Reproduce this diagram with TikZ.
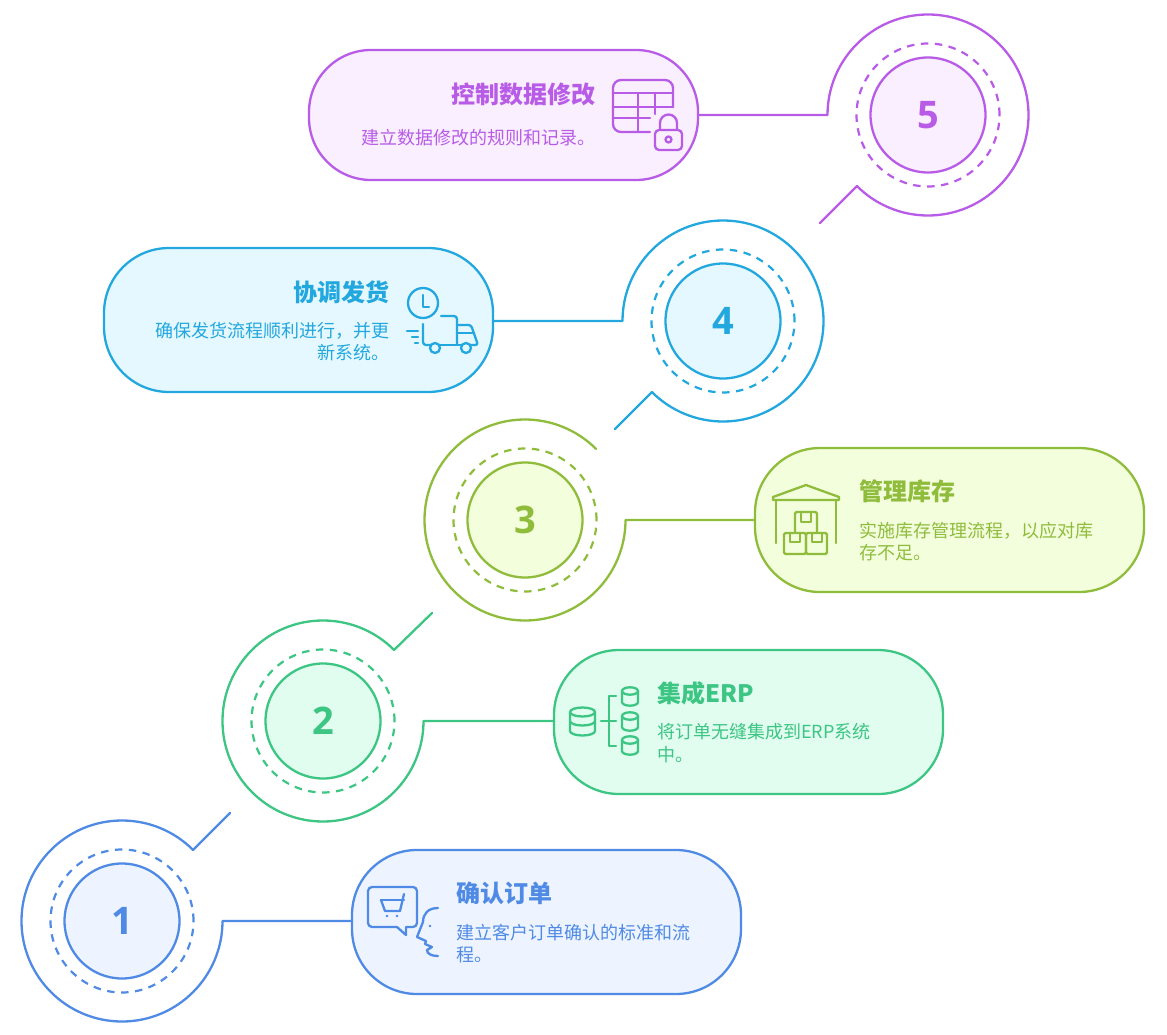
\documentclass[tikz,border=0pt]{standalone}
\usepackage{fontspec}
\setmainfont{Noto Sans CJK SC}
\newfontfamily\numfont{Open Sans}
\definecolor{cA}{HTML}{4F8AE5}\definecolor{fA}{HTML}{EDF4FF}
\definecolor{cB}{HTML}{3CC583}\definecolor{fB}{HTML}{E0FDF0}
\definecolor{cC}{HTML}{8FBC3B}\definecolor{fC}{HTML}{F3FEDD}
\definecolor{cD}{HTML}{22A8DE}\definecolor{fD}{HTML}{E6F8FF}
\definecolor{cE}{HTML}{B85CE8}\definecolor{fE}{HTML}{FAEFFE}
\tikzset{
  ln/.style={line width=2.3pt,line join=round,line cap=round},
  pill/.style={ln,draw,minimum width=389pt,minimum height=144pt,rounded corners=65pt,inner sep=0pt},
  inner/.style={ln,draw,circle,minimum size=115pt,inner sep=0pt,font=\numfont\bfseries\fontsize{38}{38}\selectfont},
  dashring/.style={line width=2.2pt,draw,circle,minimum size=143pt,inner sep=0pt,dash pattern=on 7.5pt off 6.5pt},
  ttl/.style={inner sep=0pt,font=\bfseries\fontsize{24}{28}\selectfont},
  dsc/.style={inner sep=0pt,font=\fontsize{18}{22.5}\selectfont},
  ico/.style={ln,line width=2.3pt}
}
\begin{document}
\begin{tikzpicture}[x=1pt,y=-1pt]
\useasboundingbox (0,0) rectangle (1167,1035);
% ---- 1
\begin{scope}[color=cA]
\node[pill,fill=fA] (b1) at (546.5,922) {};
\node[dashring] (d1) at (122,921) {};
\node[inner,fill=fA] (c1) at (122,921) {1};
\coordinate (a1) at (222.5,921);\coordinate (t1) at (230,813);
\draw[ln] (b1.west |- a1) -- (a1) arc[start angle=0,end angle=315,radius=100.5] -- (t1);
\node[ttl,anchor=west] (h1) at (456,893) {确认订单};
\node[dsc,anchor=north west,align=left] (p1) at (456,924) {建立客户订单确认的标准和流\\程。};
\begin{scope}[ico]
\draw (372,887) -- (413,887) arc[start angle=-90,end angle=0,radius=4] -- (417,923) arc[start angle=0,end angle=90,radius=4] -- (406,927) -- (406,935) -- (397,927) -- (372,927) arc[start angle=90,end angle=180,radius=4] -- (368,891) arc[start angle=180,end angle=270,radius=4] -- cycle;
\draw (381,900) -- (404,900);
\draw (381,900) -- (385,911) -- (400,911) -- (404,894);
\fill (387,916) circle (1.4) (397,916) circle (1.4) (430,926) circle (1.4);
\draw (438,908) .. controls (428,908) and (423,914) .. (423,922) -- (417,937) -- (426,941) -- (425,944) -- (432,947) -- (427,950) .. controls (427,954) and (432,956) .. (438,956);
\end{scope}
\end{scope}
% ---- 2
\begin{scope}[color=cB]
\node[pill,fill=fB] (b2) at (748.5,722) {};
\node[dashring] (d2) at (323,721) {};
\node[inner,fill=fB] (c2) at (323,721) {2};
\coordinate (a2) at (423.5,721);\coordinate (t2) at (432,613);
\draw[ln] (b2.west |- a2) -- (a2) arc[start angle=0,end angle=315,radius=100.5] -- (t2);
\node[ttl,anchor=west] (h2) at (657,693) {集成ERP};
\node[dsc,anchor=north west,align=left] (p2) at (657,723.5) {将订单无缝集成到ERP系统\\中。};
\begin{scope}[ico]
\draw (570,712) arc[start angle=180,end angle=540,x radius=12.5,y radius=4.5];
\draw (570,712) -- (570,731) arc[start angle=180,end angle=0,x radius=12.5,y radius=4.5] -- (595,712);
\draw (570,721) arc[start angle=180,end angle=0,x radius=12.5,y radius=4.5];
\draw (601,721) -- (616,721) (616,696) -- (609,696) -- (609,746) -- (616,746);
\foreach \yy in {691,716,740}{
  \draw (622,\yy) arc[start angle=180,end angle=540,x radius=8,y radius=3.7];
  \draw (622,\yy) -- ++(0,11) arc[start angle=180,end angle=0,x radius=8,y radius=3.7] -- ++(0,-11);
}
\end{scope}
\end{scope}
% ---- 3
\begin{scope}[color=cC]
\node[pill,fill=fC] (b3) at (949.5,520) {};
\node[dashring] (d3) at (525,520) {};
\node[inner,fill=fC] (c3) at (525,520) {3};
\coordinate (a3) at (625.5,520);
\draw[ln] (b3.west |- a3) -- (a3) arc[start angle=0,end angle=315,radius=100.5];
\node[ttl,anchor=west] (h3) at (859,491) {管理库存};
\node[dsc,anchor=north west,align=left] (p3) at (859,522) {实施库存管理流程，以应对库\\存不足。};
\begin{scope}[ico]
\draw (773,500) -- (773,497) -- (806,485) -- (839,497) -- (839,500) -- cycle;
\draw (776,501) -- (776,543) (836,501) -- (836,543);
\draw[rounded corners=1.5pt] (795,532) -- (795,512) -- (817,512) -- (817,532);
\draw (801,512) -- (801,522) -- (811,522) -- (811,512);
\draw[rounded corners=1.5pt] (784,533) rectangle (806,554);
\draw[rounded corners=1.5pt] (806,533) rectangle (827,554);
\draw (790,533) -- (790,542) -- (800,542) -- (800,533);
\draw (812,533) -- (812,542) -- (822,542) -- (822,533);
\end{scope}
\end{scope}
% ---- 4
\begin{scope}[color=cD]
\node[pill,fill=fD] (b4) at (298.5,320) {};
\node[dashring] (d4) at (723,321) {};
\node[inner,fill=fD] (c4) at (723,321) {4};
\coordinate (a4) at (622.5,321);\coordinate (t4) at (615,429);
\draw[ln] (b4.east |- a4) -- (a4) arc[start angle=180,end angle=495,radius=100.5] -- (t4);
\node[ttl,anchor=east] (h4) at (390,292) {协调发货};
\node[dsc,anchor=north east,align=right] (p4) at (390,322) {确保发货流程顺利进行，并更\\新系统。};
\begin{scope}[ico]
\draw (423,303) circle (15);
\draw (423,295) -- (423,307) -- (429,307);
\draw[rounded corners=3pt] (441,316) -- (457,316) -- (457,345);
\draw[rounded corners=3pt] (423,324) -- (423,345) -- (430,345);
\draw (440,345) -- (461,345);
\draw[rounded corners=2.5pt] (471,345) -- (478,345) -- (471,325) -- (457,325);
\draw (457,333) -- (474,333);
\draw (435,348) circle (5) (466,348) circle (5);
\draw (407,331) -- (418,331) (412,337) -- (418,337) (415,343) -- (418,343);
\end{scope}
\end{scope}
% ---- 5
\begin{scope}[color=cE]
\node[pill,fill=fE,minimum height=130pt,rounded corners=62pt] (b5) at (503.5,115) {};
\node[dashring] (d5) at (928,115) {};
\node[inner,fill=fE] (c5) at (928,115) {5};
\coordinate (a5) at (827.5,115);\coordinate (t5) at (820,223);
\draw[ln] (b5.east |- a5) -- (a5) arc[start angle=180,end angle=495,radius=100.5] -- (t5);
\node[ttl,anchor=east] (h5) at (596,94) {控制数据修改};
\node[dsc,anchor=north east,align=right] (p5) at (596,129) {建立数据修改的规则和记录。};
\begin{scope}[ico]
\draw (650,132) -- (621,132) arc[start angle=90,end angle=180,radius=8] -- (613,88) arc[start angle=180,end angle=270,radius=8] -- (665,80) arc[start angle=270,end angle=360,radius=8] -- (673,107);
\draw (613,93) -- (673,93) (613,107) -- (673,107) (613,118) -- (650,118);
\draw (638,93) -- (638,132) (655,93) -- (655,114);
\draw[rounded corners=4pt] (655,130) rectangle (682,150);
\draw (660,129) -- (660,123) arc[start angle=180,end angle=360,radius=8.5] -- (677,129);
\draw (668.5,139.5) circle (3);
\end{scope}
\end{scope}
\end{tikzpicture}
\end{document}
